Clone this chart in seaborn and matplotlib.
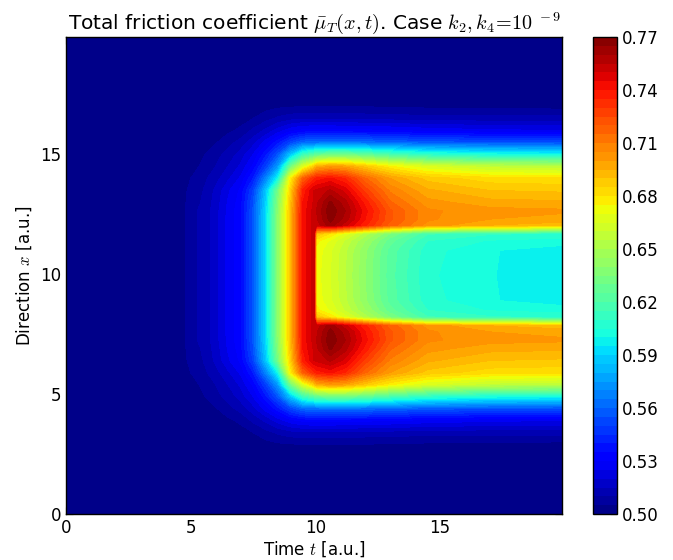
import matplotlib
matplotlib.use("Agg")
import matplotlib.pyplot as plt
import numpy as np
import seaborn as sns

# time knots (columns) and x knots (rows, upper half; field is symmetric about x = 9.95)
T_KNOTS = [0.0, 4.5, 5.0, 5.5, 6.0, 6.5, 7.0, 7.5, 8.0, 8.5, 9.0, 9.5, 9.95,
           10.05, 10.6, 11.2, 12.0, 13.0, 14.5, 17.0, 19.9]
X_UPPER = [9.95, 11.0, 11.4, 11.7, 12.05, 12.3, 12.65, 13.0, 13.5, 14.0,
           14.5, 15.0, 15.5, 16.0, 16.5, 17.0, 17.5, 19.9]

# friction coefficient, one list per x knot
mu_x09_95 = [0.500, 0.500, 0.5085, 0.5112, 0.5178, 0.5265, 0.5335, 0.556, 0.590, 0.640, 0.690, 0.742, 0.752,
             0.672, 0.665, 0.655, 0.640, 0.622, 0.606, 0.6003, 0.597]
mu_x11_0 = [0.500, 0.500, 0.5085, 0.5112, 0.5178, 0.5265, 0.5335, 0.556, 0.590, 0.640, 0.690, 0.742, 0.752,
            0.673, 0.666, 0.656, 0.641, 0.623, 0.607, 0.6004, 0.5975]
mu_x11_4 = [0.500, 0.500, 0.5085, 0.5112, 0.5178, 0.5265, 0.5335, 0.556, 0.590, 0.640, 0.690, 0.742, 0.752,
            0.677, 0.669, 0.659, 0.645, 0.627, 0.610, 0.6045, 0.6025]
mu_x11_7 = [0.500, 0.500, 0.5085, 0.5112, 0.5178, 0.5265, 0.5335, 0.556, 0.590, 0.640, 0.690, 0.742, 0.752,
            0.690, 0.680, 0.668, 0.653, 0.635, 0.616, 0.611, 0.609]
mu_x12_05 = [0.500, 0.500, 0.5085, 0.5112, 0.5178, 0.5265, 0.5335, 0.556, 0.590, 0.640, 0.690, 0.742, 0.752,
             0.752, 0.763, 0.752, 0.736, 0.718, 0.703, 0.695, 0.692]
mu_x12_3 = [0.500, 0.500, 0.5085, 0.5112, 0.5178, 0.5265, 0.5335, 0.556, 0.590, 0.640, 0.690, 0.742, 0.752,
            0.754, 0.767, 0.758, 0.740, 0.721, 0.706, 0.700, 0.698]
mu_x12_65 = [0.500, 0.500, 0.5085, 0.5112, 0.5176, 0.5263, 0.5333, 0.5555, 0.5895, 0.639, 0.6895, 0.7415, 0.752,
             0.755, 0.769, 0.760, 0.742, 0.721, 0.706, 0.702, 0.701]
mu_x13_0 = [0.500, 0.500, 0.508, 0.5105, 0.517, 0.5255, 0.5325, 0.554, 0.588, 0.637, 0.688, 0.740, 0.751,
            0.754, 0.766, 0.757, 0.738, 0.716, 0.702, 0.697, 0.696]
mu_x13_5 = [0.500, 0.500, 0.507, 0.510, 0.516, 0.524, 0.531, 0.550, 0.584, 0.632, 0.684, 0.736, 0.750,
            0.751, 0.756, 0.748, 0.728, 0.709, 0.696, 0.690, 0.689]
mu_x14_0 = [0.500, 0.500, 0.505, 0.5085, 0.513, 0.519, 0.526, 0.540, 0.567, 0.600, 0.675, 0.718, 0.734,
            0.737, 0.741, 0.735, 0.716, 0.700, 0.688, 0.682, 0.681]
mu_x14_5 = [0.500, 0.500, 0.503, 0.506, 0.510, 0.515, 0.521, 0.531, 0.549, 0.574, 0.630, 0.665, 0.685,
            0.695, 0.700, 0.698, 0.688, 0.676, 0.665, 0.657, 0.655]
mu_x15_0 = [0.500, 0.500, 0.501, 0.5045, 0.508, 0.512, 0.517, 0.525, 0.538, 0.556, 0.585, 0.612, 0.622,
            0.625, 0.630, 0.630, 0.625, 0.617, 0.608, 0.602, 0.600]
mu_x15_5 = [0.500, 0.500, 0.500, 0.502, 0.5045, 0.508, 0.512, 0.518, 0.527, 0.538, 0.551, 0.561, 0.562,
            0.562, 0.563, 0.563, 0.562, 0.560, 0.557, 0.555, 0.554]
mu_x16_0 = [0.500, 0.500, 0.500, 0.500, 0.502, 0.504, 0.506, 0.511, 0.516, 0.522, 0.528, 0.531, 0.532,
            0.532, 0.532, 0.531, 0.531, 0.530, 0.528, 0.526, 0.525]
mu_x16_5 = [0.500, 0.500, 0.500, 0.500, 0.500, 0.501, 0.503, 0.505, 0.508, 0.511, 0.513, 0.514, 0.514,
            0.514, 0.514, 0.514, 0.513, 0.513, 0.512, 0.512, 0.512]
mu_x17_0 = [0.500, 0.500, 0.500, 0.500, 0.500, 0.500, 0.501, 0.502, 0.503, 0.504, 0.5045, 0.505, 0.505,
            0.505, 0.505, 0.505, 0.505, 0.504, 0.504, 0.504, 0.503]
mu_x17_5 = [0.500, 0.500, 0.500, 0.500, 0.500, 0.500, 0.500, 0.500, 0.500, 0.500, 0.500, 0.500, 0.500,
            0.500, 0.500, 0.500, 0.500, 0.500, 0.500, 0.500, 0.500]
mu_x19_9 = [0.500, 0.500, 0.500, 0.500, 0.500, 0.500, 0.500, 0.500, 0.500, 0.500, 0.500, 0.500, 0.500,
            0.500, 0.500, 0.500, 0.500, 0.500, 0.500, 0.500, 0.500]

MU_UPPER = [mu_x09_95, mu_x11_0, mu_x11_4, mu_x11_7, mu_x12_05, mu_x12_3, mu_x12_65,
            mu_x13_0, mu_x13_5, mu_x14_0, mu_x14_5, mu_x15_0, mu_x15_5, mu_x16_0,
            mu_x16_5, mu_x17_0, mu_x17_5, mu_x19_9]

CBAR_TICKS = [0.50, 0.53, 0.56, 0.59, 0.62, 0.65, 0.68, 0.71, 0.74, 0.77]
AXIS_TICKS = [0, 5, 10, 15]

sns.set_style("white")
plt.rcParams.update({
    "font.family": ["DejaVu Sans"],
    "mathtext.fontset": "cm",
    "text.color": "black",
    "axes.labelcolor": "black",
    "xtick.direction": "in",
    "ytick.direction": "in",
    "xtick.top": True,
    "ytick.right": True,
    "xtick.bottom": True,
    "ytick.left": True,
    "xtick.major.size": 5,
    "ytick.major.size": 5,
    "axes.edgecolor": "black",
    "axes.linewidth": 1.0,
    "xtick.color": "black",
    "ytick.color": "black",
})

# mirror the upper half about the centre line x = 9.95
x_full = np.array([19.9 - x for x in X_UPPER[::-1]] + X_UPPER[1:])
mu_full = np.array(MU_UPPER[::-1] + MU_UPPER[1:])
t_grid = np.array(T_KNOTS)

fig = plt.figure(figsize=(6.73, 5.6), dpi=100)
ax = fig.add_axes([66 / 673, 46 / 560, 496 / 673, 477 / 560])
cax = fig.add_axes([593 / 673, 46 / 560, 24 / 673, 477 / 560])

cmap = matplotlib.colormaps["jet"]
levels = np.linspace(0.50, 0.77, 55)
cs = ax.contourf(t_grid, x_full, mu_full, levels=levels, cmap=cmap)

ax.set_xlim(0, 19.9)
ax.set_ylim(0, 19.9)
ax.set_xticks(AXIS_TICKS)
ax.set_yticks(AXIS_TICKS)
ax.tick_params(labelsize=12, colors="black")
ax.set_xlabel(r"Time $t$ [a.u.]", fontsize=12, labelpad=2)
ax.set_ylabel(r"Direction $x$ [a.u.]", fontsize=12, labelpad=4)
ax.set_title(r"Total friction coefficient $\bar{\mu}_T(x,t)$. Case $k_{2},k_{4}\!=\!10^{\ -9}$",
             fontsize=14.5, pad=6)

cb = fig.colorbar(cs, cax=cax, ticks=CBAR_TICKS, format="%.2f")
cb.ax.tick_params(labelsize=12, direction="in", length=5, colors="black")
cb.outline.set_linewidth(1.0)

fig.savefig("out.png", dpi=100)
